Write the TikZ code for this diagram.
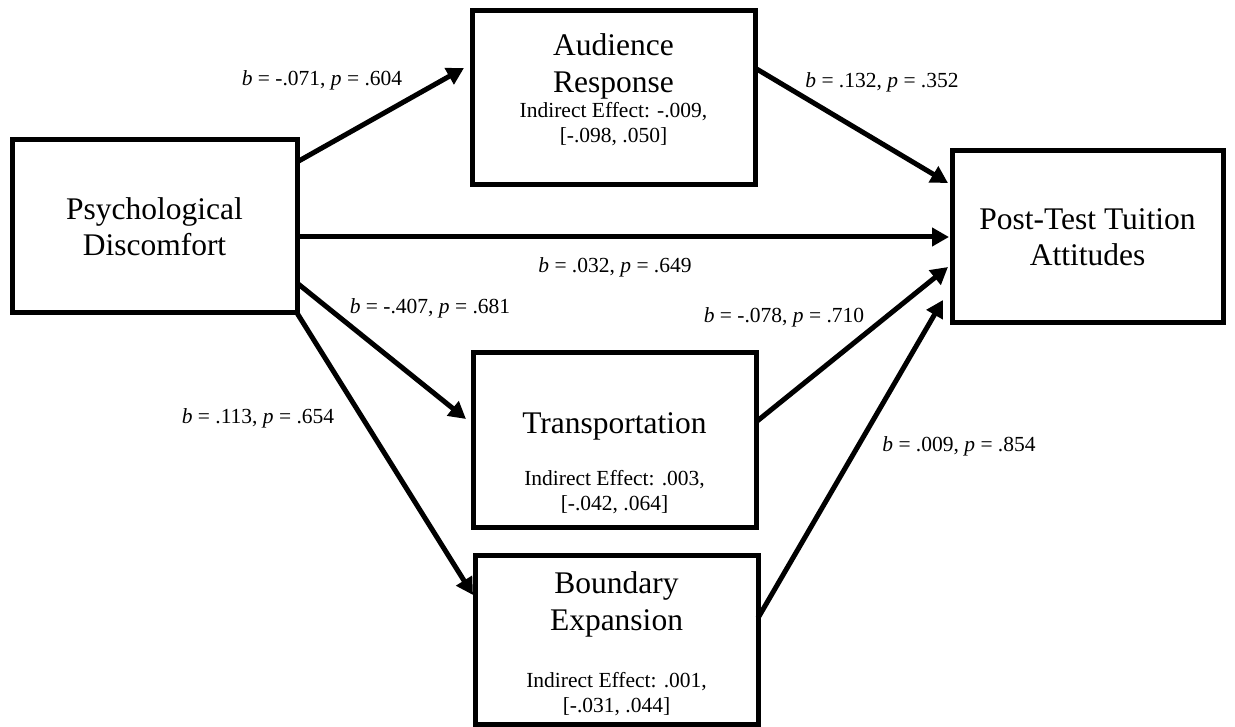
\documentclass[tikz,border=0pt]{standalone}
\usepackage{fontspec}
\setmainfont{Liberation Serif}
\usetikzlibrary{arrows.meta}

\newcommand{\bigtext}{\fontsize{31.5}{36.5}\selectfont}
\newcommand{\smalltext}{\fontsize{21.5}{24.5}\selectfont}

\begin{document}
\begin{tikzpicture}[x=1pt, y=-1pt, >={Triangle[length=17pt,width=18pt]},
  varbox/.style={draw, line width=5pt, inner sep=0pt, outer sep=0pt,
    minimum width=283pt, minimum height=174pt, align=center, font=\bigtext},
  name text/.style={anchor=north, align=center, inner sep=0pt, font=\bigtext},
  effect text/.style={anchor=north, align=center, inner sep=0pt, font=\smalltext},
  coef/.style={anchor=base, inner sep=0pt, font=\smalltext},
  link/.style={->, line width=5pt}]
\useasboundingbox (0,0) rectangle (1235,727);

\node [varbox, minimum width=285pt, minimum height=173pt] (discomfort) at (154.5,226.5)
  {Psychological\\Discomfort};
\node [varbox, minimum width=271pt, minimum height=172pt] (attitudes) at (1087.5,237)
  {Post-Test Tuition\\Attitudes};

\foreach \m/\x/\y/\h in {audience/613.5/98/174, transport/614.5/440/174, boundary/616.5/639.5/169}
  \node [varbox, minimum height=\h pt] (\m) at (\x,\y) {};

% mediator texts
\node [name text] (audience-name) at ([shift={(0,22.5)}]audience.north) {Audience\\Response};
\node [effect text] (audience-effect) at ([shift={(0,91.3)}]audience.north)
  {Indirect Effect: -.009,\\{}[-.098, .050]};
\node [name text] (transport-name) at ([shift={(0,59)}]transport.north) {Transportation};
\node [effect text] (transport-effect) at ([shift={(0,117.3)}]transport.north)
  {Indirect Effect: .003,\\{}[-.042, .064]};
\node [name text] (boundary-name) at ([shift={(0,16.5)}]boundary.north) {Boundary\\Expansion};
\node [effect text] (boundary-effect) at ([shift={(0,117.3)}]boundary.north)
  {Indirect Effect: .001,\\{}[-.031, .044]};

\draw [link] ([shift={(0,22)}]discomfort.north east) -- ([shift={(-8,57)}]audience.north west);
\draw [link] ([shift={(0,57)}]audience.north east) -- ([shift={(-4,32)}]attitudes.north west);
\draw [link] (discomfort.east |- attitudes.west) -- ([xshift=-3pt]attitudes.west);
\draw [link] ([shift={(0,-30)}]discomfort.south east) -- ([shift={(-7,66)}]transport.north west);
\draw [link] (discomfort.south east) -- ([shift={(-2,40)}]boundary.north west);
\draw [link] ([shift={(0,69)}]transport.north east) -- ([shift={(-4,116)}]attitudes.north west);
\draw [link] ([shift={(0,63)}]boundary.north east) -- ([shift={(-9,149)}]attitudes.north west);

\foreach \n/\x/\y/\b/\p in {da/322/86/-.071/.604, aa/882/88/.132/.352, dt/615/273/.032/.649,
    dr/430/314/-.407/.681, ra/784/323/-.078/.710, db/258/424/.113/.654, ba/959/451/.009/.854}
  \node [coef] (coef-\n) at (\x,\y) {\textit{b} = \b, \textit{p} = \p};
\end{tikzpicture}
\end{document}
